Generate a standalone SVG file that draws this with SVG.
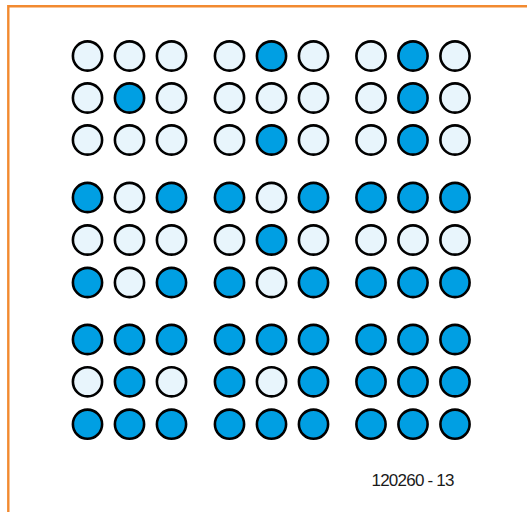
<svg xmlns="http://www.w3.org/2000/svg" xmlns:xlink="http://www.w3.org/1999/xlink" width="527" height="512" viewBox="0 0 527 512">
<defs>
<style>
.off{fill:#E8F5FC;stroke:#000;stroke-width:2.6}
.on{fill:#009FE3;stroke:#000;stroke-width:2.6}
.frame{fill:none;stroke:#F28A30;stroke-width:2.4}
.lbl{font-family:"Liberation Sans",Arial,sans-serif;font-size:17px;fill:#1a1a1a}
</style>
</defs>
<rect width="527" height="512" fill="#fff"/>
<path class="frame" d="M8.3 512 V6.2 H527"/>
<g id="die1">
<circle class="off" cx="87.5" cy="56" r="14.6"/><circle class="off" cx="129.5" cy="56" r="14.6"/><circle class="off" cx="171.5" cy="56" r="14.6"/>
<circle class="off" cx="87.5" cy="98" r="14.6"/><circle class="on" cx="129.5" cy="98" r="14.6"/><circle class="off" cx="171.5" cy="98" r="14.6"/>
<circle class="off" cx="87.5" cy="140" r="14.6"/><circle class="off" cx="129.5" cy="140" r="14.6"/><circle class="off" cx="171.5" cy="140" r="14.6"/>
</g>
<g id="die2">
<circle class="off" cx="229.5" cy="56" r="14.6"/><circle class="on" cx="271.5" cy="56" r="14.6"/><circle class="off" cx="313.5" cy="56" r="14.6"/>
<circle class="off" cx="229.5" cy="98" r="14.6"/><circle class="off" cx="271.5" cy="98" r="14.6"/><circle class="off" cx="313.5" cy="98" r="14.6"/>
<circle class="off" cx="229.5" cy="140" r="14.6"/><circle class="on" cx="271.5" cy="140" r="14.6"/><circle class="off" cx="313.5" cy="140" r="14.6"/>
</g>
<g id="die3">
<circle class="off" cx="371" cy="56" r="14.6"/><circle class="on" cx="413" cy="56" r="14.6"/><circle class="off" cx="455" cy="56" r="14.6"/>
<circle class="off" cx="371" cy="98" r="14.6"/><circle class="on" cx="413" cy="98" r="14.6"/><circle class="off" cx="455" cy="98" r="14.6"/>
<circle class="off" cx="371" cy="140" r="14.6"/><circle class="on" cx="413" cy="140" r="14.6"/><circle class="off" cx="455" cy="140" r="14.6"/>
</g>
<g id="die4">
<circle class="on" cx="87.5" cy="197.5" r="14.6"/><circle class="off" cx="129.5" cy="197.5" r="14.6"/><circle class="on" cx="171.5" cy="197.5" r="14.6"/>
<circle class="off" cx="87.5" cy="240" r="14.6"/><circle class="off" cx="129.5" cy="240" r="14.6"/><circle class="off" cx="171.5" cy="240" r="14.6"/>
<circle class="on" cx="87.5" cy="282.5" r="14.6"/><circle class="off" cx="129.5" cy="282.5" r="14.6"/><circle class="on" cx="171.5" cy="282.5" r="14.6"/>
</g>
<g id="die5">
<circle class="on" cx="229.5" cy="197.5" r="14.6"/><circle class="off" cx="271.5" cy="197.5" r="14.6"/><circle class="on" cx="313.5" cy="197.5" r="14.6"/>
<circle class="off" cx="229.5" cy="240" r="14.6"/><circle class="on" cx="271.5" cy="240" r="14.6"/><circle class="off" cx="313.5" cy="240" r="14.6"/>
<circle class="on" cx="229.5" cy="282.5" r="14.6"/><circle class="off" cx="271.5" cy="282.5" r="14.6"/><circle class="on" cx="313.5" cy="282.5" r="14.6"/>
</g>
<g id="die6">
<circle class="on" cx="371" cy="197.5" r="14.6"/><circle class="on" cx="413" cy="197.5" r="14.6"/><circle class="on" cx="455" cy="197.5" r="14.6"/>
<circle class="off" cx="371" cy="240" r="14.6"/><circle class="off" cx="413" cy="240" r="14.6"/><circle class="off" cx="455" cy="240" r="14.6"/>
<circle class="on" cx="371" cy="282.5" r="14.6"/><circle class="on" cx="413" cy="282.5" r="14.6"/><circle class="on" cx="455" cy="282.5" r="14.6"/>
</g>
<g id="die7">
<circle class="on" cx="87.5" cy="339.5" r="14.6"/><circle class="on" cx="129.5" cy="339.5" r="14.6"/><circle class="on" cx="171.5" cy="339.5" r="14.6"/>
<circle class="off" cx="87.5" cy="381.8" r="14.6"/><circle class="on" cx="129.5" cy="381.8" r="14.6"/><circle class="off" cx="171.5" cy="381.8" r="14.6"/>
<circle class="on" cx="87.5" cy="424.2" r="14.6"/><circle class="on" cx="129.5" cy="424.2" r="14.6"/><circle class="on" cx="171.5" cy="424.2" r="14.6"/>
</g>
<g id="die8">
<circle class="on" cx="229.5" cy="339.5" r="14.6"/><circle class="on" cx="271.5" cy="339.5" r="14.6"/><circle class="on" cx="313.5" cy="339.5" r="14.6"/>
<circle class="on" cx="229.5" cy="381.8" r="14.6"/><circle class="off" cx="271.5" cy="381.8" r="14.6"/><circle class="on" cx="313.5" cy="381.8" r="14.6"/>
<circle class="on" cx="229.5" cy="424.2" r="14.6"/><circle class="on" cx="271.5" cy="424.2" r="14.6"/><circle class="on" cx="313.5" cy="424.2" r="14.6"/>
</g>
<g id="die9">
<circle class="on" cx="371" cy="339.5" r="14.6"/><circle class="on" cx="413" cy="339.5" r="14.6"/><circle class="on" cx="455" cy="339.5" r="14.6"/>
<circle class="on" cx="371" cy="381.8" r="14.6"/><circle class="on" cx="413" cy="381.8" r="14.6"/><circle class="on" cx="455" cy="381.8" r="14.6"/>
<circle class="on" cx="371" cy="424.2" r="14.6"/><circle class="on" cx="413" cy="424.2" r="14.6"/><circle class="on" cx="455" cy="424.2" r="14.6"/>
</g>
<g id="connectors"/>
<text class="lbl" x="371.5" y="485.7" textLength="83" lengthAdjust="spacing">120260 - 13</text>
</svg>
